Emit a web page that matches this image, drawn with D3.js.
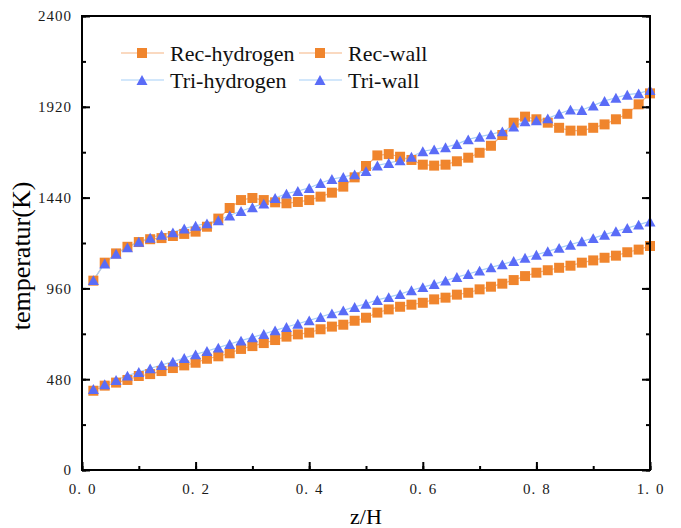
<!DOCTYPE html>
<html>
<head>
<meta charset="utf-8">
<script src="https://cdn.jsdelivr.net/npm/d3@7"></script>
<style>
  html, body { margin: 0; padding: 0; background: #ffffff; }
  svg { display: block; }
</style>
</head>
<body>
<svg id="chart" width="681" height="528"></svg>
<script>
// Axial position along the channel (z/H)
const zH = [0.02, 0.04, 0.06, 0.08, 0.10, 0.12, 0.14, 0.16, 0.18, 0.20,
            0.22, 0.24, 0.26, 0.28, 0.30, 0.32, 0.34, 0.36, 0.38, 0.40,
            0.42, 0.44, 0.46, 0.48, 0.50, 0.52, 0.54, 0.56, 0.58, 0.60,
            0.62, 0.64, 0.66, 0.68, 0.70, 0.72, 0.74, 0.76, 0.78, 0.80,
            0.82, 0.84, 0.86, 0.88, 0.90, 0.92, 0.94, 0.96, 0.98, 1.00];

// Temperatures in K
const recHydrogen = [419, 446, 462, 476, 497, 507, 523, 539, 553, 567,
                     588, 601, 617, 640, 655, 671, 687, 705, 717, 726,
                     744, 758, 768, 789, 805, 832, 849, 863, 874, 884,
                     902, 911, 927, 937, 955, 969, 985, 1004, 1025, 1043,
                     1056, 1069, 1080, 1096, 1108, 1122, 1133, 1151, 1165, 1184];
const recWall = [1001, 1096, 1145, 1180, 1205, 1220, 1226, 1237, 1248, 1260,
                 1286, 1329, 1385, 1427, 1438, 1427, 1415, 1410, 1417, 1427,
                 1445, 1466, 1498, 1547, 1607, 1663, 1670, 1656, 1639, 1614,
                 1609, 1614, 1632, 1651, 1677, 1714, 1771, 1836, 1868, 1854,
                 1836, 1809, 1794, 1794, 1809, 1827, 1854, 1883, 1933, 1991];
const triHydrogen = [428, 453, 476, 499, 518, 537, 555, 573, 592, 611,
                     629, 647, 666, 684, 701, 719, 738, 756, 773, 791,
                     809, 828, 844, 862, 879, 899, 914, 930, 950, 967,
                     983, 1001, 1020, 1036, 1054, 1071, 1087, 1105, 1122, 1138,
                     1156, 1174, 1191, 1209, 1226, 1244, 1262, 1279, 1297, 1314];
const triWall = [1004, 1092, 1143, 1177, 1207, 1228, 1244, 1256, 1277, 1291,
                 1304, 1320, 1345, 1369, 1389, 1408, 1438, 1461, 1475, 1491,
                 1517, 1538, 1549, 1563, 1580, 1610, 1623, 1637, 1656, 1685,
                 1695, 1706, 1723, 1748, 1762, 1774, 1790, 1815, 1843, 1848,
                 1859, 1883, 1905, 1903, 1926, 1951, 1968, 1984, 1991, 2009];

const xTicks = [0.0, 0.2, 0.4, 0.6, 0.8, 1.0];
const xTickLabels = ["0.0", "0.2", "0.4", "0.6", "0.8", "1.0"];
const yTicks = [0, 480, 960, 1440, 1920, 2400];
const yTickLabels = ["0", "480", "960", "1440", "1920", "2400"];

const seriesNames = ["Rec-hydrogen", "Rec-wall", "Tri-hydrogen", "Tri-wall"];

const ORANGE = "#f0852d", ORANGE_LINE = "#f6b482";
const BLUE = "#5a6cf7", BLUE_LINE = "#a6cff7";

const series = [
  { name: seriesNames[0], values: recHydrogen, shape: "square",   fill: ORANGE, line: ORANGE_LINE },
  { name: seriesNames[1], values: recWall,     shape: "square",   fill: ORANGE, line: ORANGE_LINE },
  { name: seriesNames[2], values: triHydrogen, shape: "triangle", fill: BLUE,   line: BLUE_LINE },
  { name: seriesNames[3], values: triWall,     shape: "triangle", fill: BLUE,   line: BLUE_LINE }
];

const svg = d3.select("#chart");
const margin = { left: 82, right: 31, top: 16, bottom: 58 };
const W = 681, H = 528;

const x = d3.scaleLinear().domain([0, 1]).range([margin.left, W - margin.right]);
const y = d3.scaleLinear().domain([0, 2400]).range([H - margin.bottom, margin.top]);

// Marker shapes: square and upward triangle, both centred on their bounding box
const squareSym = {
  draw(ctx, size) {
    const s = Math.sqrt(size) / 2;
    ctx.rect(-s, -s, 2 * s, 2 * s);
  }
};
const triangleSym = {
  draw(ctx, size) {
    const w = Math.sqrt(size);      // base width
    const h = w * 0.9;              // height
    ctx.moveTo(0, -h / 2);
    ctx.lineTo(w / 2, h / 2);
    ctx.lineTo(-w / 2, h / 2);
    ctx.closePath();
  }
};
const symbolFor = shape => shape === "square"
  ? d3.symbol().type(squareSym).size(100)
  : d3.symbol().type(triangleSym).size(121);

const plot = svg.append("g");

// connecting lines first, then markers
const lineGen = d3.line().x((d, i) => x(zH[i])).y(d => y(d));
series.forEach(s => {
  plot.append("path")
    .attr("d", lineGen(s.values))
    .attr("fill", "none")
    .attr("stroke", s.line)
    .attr("stroke-width", 1.2);
});
series.forEach(s => {
  plot.append("g").selectAll("path")
    .data(s.values)
    .join("path")
    .attr("transform", (d, i) => `translate(${x(zH[i])},${y(d)})`)
    .attr("d", symbolFor(s.shape)())
    .attr("fill", s.fill);
});

// Frame and ticks (ticks point inward)
const axisColor = "#000";
const axes = svg.append("g");
const xMinor = d3.range(0, 11).map(i => i / 10);
const yMinor = d3.range(0, 11).map(i => i * 240);

const bottomAxis = d3.axisBottom(x).tickValues(xTicks).tickSize(-8).tickFormat((d, i) => xTickLabels[i]).tickPadding(13);
const bottomMinor = d3.axisBottom(x).tickValues(xMinor).tickSize(-4).tickFormat("");
const leftAxis = d3.axisLeft(y).tickValues(yTicks).tickSize(-8).tickFormat((d, i) => yTickLabels[i]).tickPadding(10);
const leftMinor = d3.axisLeft(y).tickValues(yMinor).tickSize(-4).tickFormat("");
const rightAxis = d3.axisRight(y).tickValues(yTicks).tickSize(-8).tickFormat("");
const rightMinor = d3.axisRight(y).tickValues(yMinor).tickSize(-4).tickFormat("");

const serif = "'Liberation Serif', 'Times New Roman', serif";
function styleAxis(g) {
  g.attr("font-family", serif).attr("font-size", 15);
  g.select(".domain").remove();
  g.selectAll(".tick line").attr("stroke", axisColor).attr("stroke-width", 2);
  g.selectAll(".tick text")
    .attr("fill", "#1a1a1a")
    .attr("letter-spacing", "1px");
}

// x labels: decimal point set wide, as in a full-width numeral font
function widenPoint(g) {
  g.selectAll(".tick text").each(function () {
    const t = d3.select(this);
    const parts = t.text().split(".");
    t.text(null);
    t.append("tspan").text(parts[0]);
    t.append("tspan").text(".").attr("letter-spacing", "7px");
    t.append("tspan").text(parts[1]);
  });
}

axes.append("g").attr("transform", `translate(0,${y(0)})`).call(bottomMinor).call(styleAxis);
axes.append("g").attr("transform", `translate(0,${y(0)})`).call(bottomAxis).call(styleAxis).call(widenPoint);
axes.append("g").attr("transform", `translate(${x(0)},0)`).call(leftMinor).call(styleAxis);
axes.append("g").attr("transform", `translate(${x(0)},0)`).call(leftAxis).call(styleAxis);
axes.append("g").attr("transform", `translate(${x(1)},0)`).call(rightMinor).call(styleAxis);
axes.append("g").attr("transform", `translate(${x(1)},0)`).call(rightAxis).call(styleAxis);

// Frame box
axes.append("rect")
  .attr("x", x(0)).attr("y", y(2400))
  .attr("width", x(1) - x(0)).attr("height", y(0) - y(2400))
  .attr("fill", "none").attr("stroke", axisColor).attr("stroke-width", 2);

// Axis titles
svg.append("text")
  .attr("x", (x(0) + x(1)) / 2).attr("y", 524)
  .attr("text-anchor", "middle")
  .style("font-family", serif).style("font-size", "22px")
  .text("z/H");
svg.append("text")
  .attr("transform", `translate(30,256) rotate(-90)`)
  .attr("text-anchor", "middle")
  .style("font-family", serif).style("font-size", "26px")
  .text("temperatur(K)");

// Legend: two columns, two rows
const legendPos = [
  { lx: 121, ly: 53 }, { lx: 299, ly: 53 },
  { lx: 121, ly: 80 }, { lx: 299, ly: 80 }
];
const legend = svg.append("g");
series.forEach((s, i) => {
  const p = legendPos[i];
  const g = legend.append("g").attr("transform", `translate(${p.lx},${p.ly})`);
  g.append("line").attr("x1", 0).attr("x2", 43).attr("y1", 0).attr("y2", 0)
    .attr("stroke", s.line).attr("stroke-width", 1.2);
  g.append("path").attr("transform", "translate(21,0)")
    .attr("d", symbolFor(s.shape)()).attr("fill", s.fill);
  g.append("text").attr("x", 49).attr("y", 7.5)
    .style("font-family", serif).style("font-size", "22px")
    .attr("fill", "#111")
    .text(s.name);
});
</script>
</body>
</html>
